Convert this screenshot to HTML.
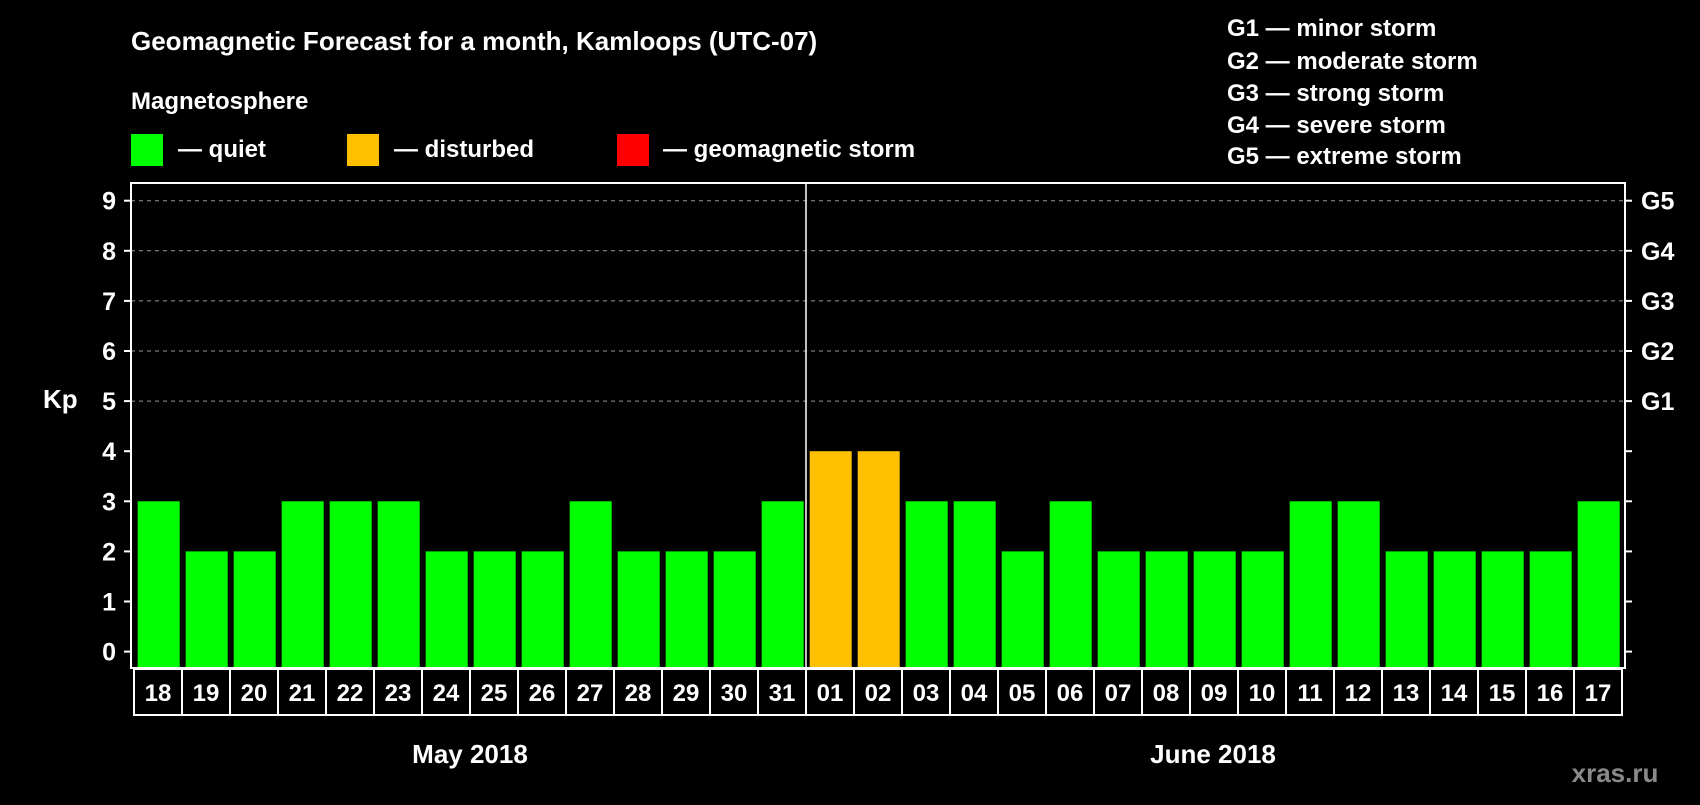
<!DOCTYPE html>
<html><head><meta charset="utf-8"><style>
body{margin:0;background:#000;width:1700px;height:800px;overflow:hidden}
svg text{font-family:"Liberation Sans",Arial,sans-serif;font-weight:bold;fill:#fff}
</style></head><body>
<svg id="chart" width="1700" height="800" xmlns="http://www.w3.org/2000/svg">
<text x="131" y="50" font-size="26">Geomagnetic Forecast for a month, Kamloops (UTC-07)</text>
<text x="131" y="109" font-size="24">Magnetosphere</text>
<g><rect x="131" y="134" width="32" height="32" fill="#00ff00"/><text x="178" y="157" font-size="24">— quiet</text></g>
<g><rect x="347" y="134" width="32" height="32" fill="#ffc000"/><text x="394" y="157" font-size="24">— disturbed</text></g>
<g><rect x="617" y="134" width="32" height="32" fill="#ff0000"/><text x="663" y="157" font-size="24">— geomagnetic storm</text></g>
<g font-size="24">
<text x="1227" y="36">G1 — minor storm</text>
<text x="1227" y="69">G2 — moderate storm</text>
<text x="1227" y="101">G3 — strong storm</text>
<text x="1227" y="133">G4 — severe storm</text>
<text x="1227" y="164">G5 — extreme storm</text>
</g>
<text x="43" y="408" font-size="26">Kp</text>
<text x="470" y="763" font-size="26" text-anchor="middle">May 2018</text>
<text x="1213" y="763" font-size="26" text-anchor="middle">June 2018</text>
<text x="1615" y="782" font-size="26" fill="#888" style="fill:#8a8a8a" text-anchor="middle">xras.ru</text>
<g id="g"></g>
</svg>
<script>
const days=["18","19","20","21","22","23","24","25","26","27","28","29","30","31","01","02","03","04","05","06","07","08","09","10","11","12","13","14","15","16","17"];
const kp=[3,2,2,3,3,3,2,2,2,3,2,2,2,3,4,4,3,3,2,3,2,2,2,2,3,3,2,2,2,2,3];
const yTicks=[0,1,2,3,4,5,6,7,8,9];
const gLabels=["G1","G2","G3","G4","G5"];
const NS="http://www.w3.org/2000/svg";
const g=document.getElementById('g');
const y=v=>651.6-v*50.1;
const x=i=>134+i*48;
function mk(t,a){const e=document.createElementNS(NS,t);for(const k in a)e.setAttribute(k,a[k]);g.appendChild(e);return e;}
yTicks.forEach(v=>{
  if(v>=5){const l=mk('line',{x1:131,x2:1625,y1:y(v),y2:y(v),stroke:'#999','stroke-dasharray':'4,4','stroke-width':1});
  
  }
  const t1=mk('line',{x1:124,x2:131,y1:y(v),y2:y(v),stroke:'#fff','stroke-width':2});
  
  
  const t2=mk('line',{x1:1625,x2:1632,y1:y(v),y2:y(v),stroke:'#fff','stroke-width':2});
  
  
  const tx=mk('text',{x:116,y:y(v)+9,'font-size':25,'text-anchor':'end'});tx.textContent=v;
  
  
});
gLabels.forEach((s,i)=>{const t=mk('text',{x:1641,y:y(5+i)+9,'font-size':25});t.textContent=s;
  
  });
kp.forEach((v,i)=>{
  const c=v>=5?'#ff0000':v>=4?'#ffc000':'#00ff00';
  const r=mk('rect',{x:x(i)+3.7,y:y(v),width:42,height:668-y(v),fill:c});
  
  
  const cell=mk('rect',{x:x(i),y:669,width:48,height:46,fill:'none',stroke:'#fff','stroke-width':2});
  
  
  const t=mk('text',{x:x(i)+24,y:701,'font-size':24,'text-anchor':'middle'});t.textContent=days[i];
  
  
});
const f=mk('rect',{x:131,y:183,width:1494,height:485,fill:'none',stroke:'#fff','stroke-width':2});


const sep=mk('line',{x1:x(14),x2:x(14),y1:183,y2:668,stroke:'#fff','stroke-width':1.5});


</script>
</body></html>
